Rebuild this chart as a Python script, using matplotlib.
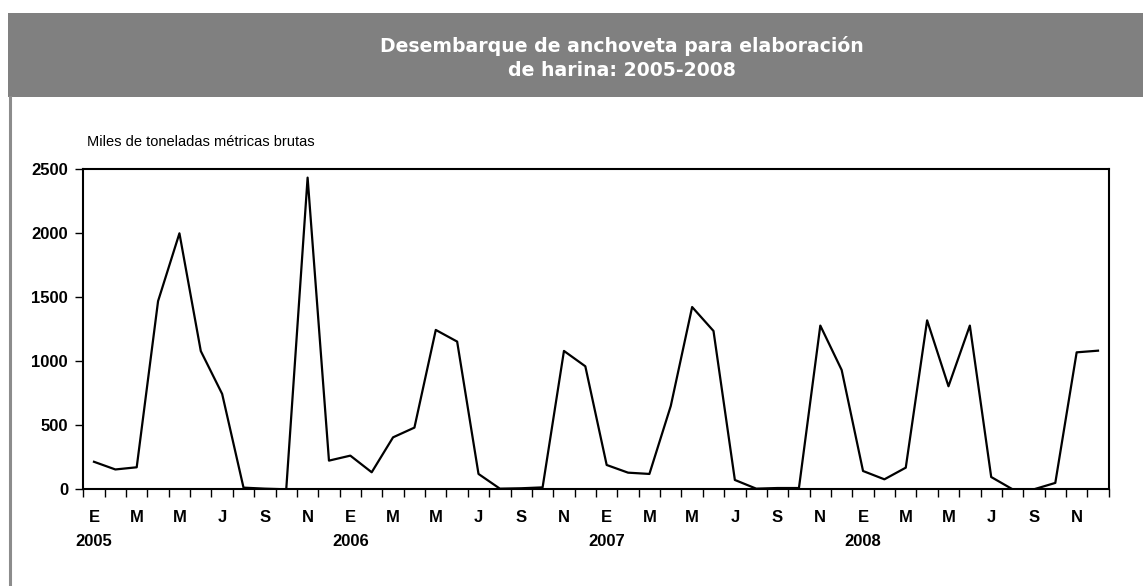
import numpy as np
import matplotlib
matplotlib.use("Agg")
import matplotlib.pyplot as plt
from matplotlib.patches import Rectangle
from matplotlib.lines import Line2D
import matplotlib.transforms as mtransforms

# datos: miles de toneladas métricas brutas, ene-2005 a dic-2008
years = [2005, 2006, 2007, 2008]
month_letters = ["E", "F", "M", "A", "M", "J", "J", "A", "S", "O", "N", "D"]
landings_2005 = [215, 155, 172, 1470, 2000, 1080, 745, 13, 5, 0, 2435, 224]
landings_2006 = [263, 133, 406, 482, 1245, 1154, 120, 5, 8, 15, 1081, 961]
landings_2007 = [190, 130, 120, 651, 1424, 1237, 73, 5, 10, 10, 1279, 932]
landings_2008 = [143, 78, 169, 1320, 805, 1279, 96, 0, 0, 50, 1070, 1083]

values = landings_2005 + landings_2006 + landings_2007 + landings_2008
n = len(values)
x = np.arange(n) + 0.5

plt.rcParams["font.family"] = ["Liberation Sans", "DejaVu Sans"]

fig = plt.figure(figsize=(11.43, 5.86), dpi=100)
W, H = 1143, 586

# barra de título gris y borde izquierdo
fig.patches.append(Rectangle((8 / W, 1 - 97 / H), 1 - 8 / W, 84 / H,
                             transform=fig.transFigure, facecolor="#808080",
                             edgecolor="none", zorder=0))
fig.lines.append(Line2D([9.5 / W, 9.5 / W], [0, 1 - 97 / H], transform=fig.transFigure,
                        color="#8c8c8c", linewidth=2.2))
fig.text(622 / W, 1 - 58 / H, "Desembarque de anchoveta para elaboración\nde harina: 2005-2008",
         ha="center", va="center", color="white", fontsize=13.6, fontweight="bold",
         family="DejaVu Sans", linespacing=1.35)

ax = fig.add_axes([83.3 / W, 1 - 489.3 / H, (1108.7 - 83.3) / W, (489.3 - 169.3) / H])
ax.plot(x, values, color="black", linewidth=1.6)

ax.set_xlim(0, n)
ax.set_ylim(0, 2500)
ax.set_yticks(np.arange(0, 2501, 500))
for s in ax.spines.values():
    s.set_linewidth(1.5)

# marcas en los límites de cada mes, etiquetas cada dos meses
ax.set_xticks(np.arange(0, n + 1))
ax.set_xticklabels([])
ax.set_xticks(x[::2], minor=True)
ax.set_xticklabels([month_letters[i % 12] for i in range(0, n, 2)], minor=True,
                   fontsize=12, fontweight="bold")
ax.tick_params(axis="x", which="major", direction="out", length=6, width=1)
ax.tick_params(axis="x", which="minor", length=0, pad=15)
ax.tick_params(axis="y", direction="out", length=6, width=1, labelsize=12, pad=5)
for lab in ax.get_yticklabels():
    lab.set_fontweight("bold")

trans = mtransforms.blended_transform_factory(ax.transData, ax.transAxes)
for k, yr in enumerate(years):
    ax.text(k * 12 + 0.5, -0.162, str(yr), transform=trans, ha="center", va="center",
            fontsize=12, fontweight="bold")

fig.text(87 / W, 1 - 142 / H, "Miles de toneladas métricas brutas", ha="left", va="center",
         fontsize=10.5)

fig.savefig("out.png", dpi=100, facecolor="white")
